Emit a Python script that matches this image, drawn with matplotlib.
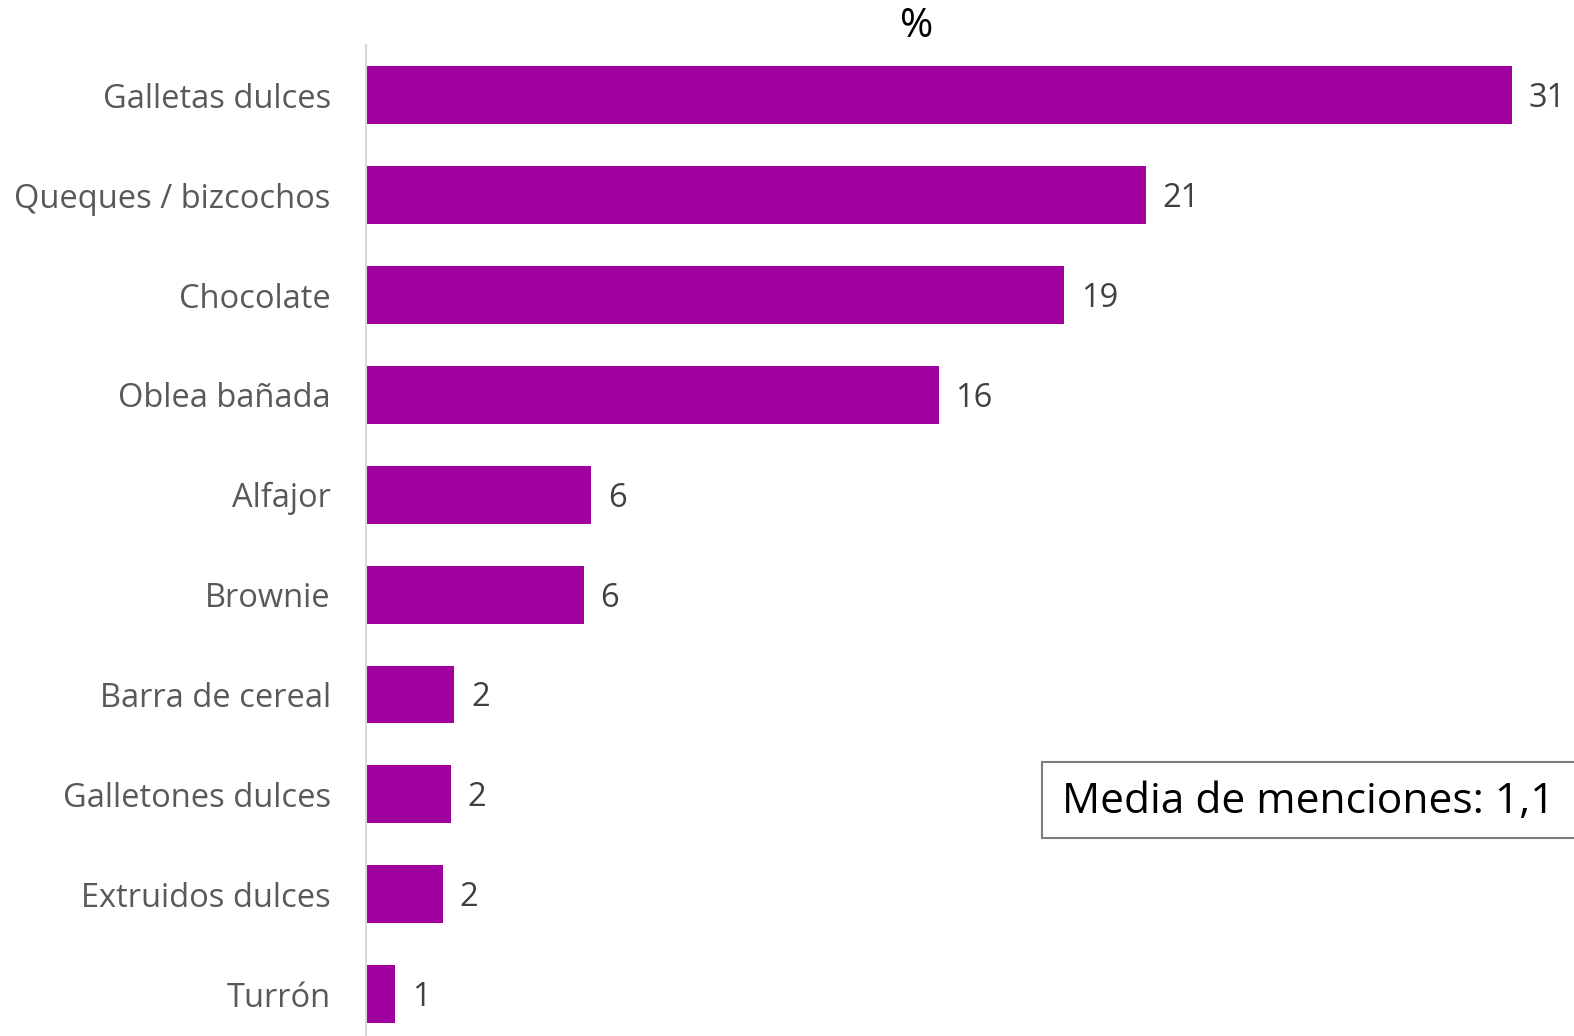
import matplotlib
matplotlib.use("Agg")
import matplotlib.pyplot as plt
from matplotlib.patches import Rectangle

categories = ["Galletas dulces", "Queques / bizcochos", "Chocolate", "Oblea bañada",
              "Alfajor", "Brownie", "Barra de cereal", "Galletones dulces",
              "Extruidos dulces", "Turrón"]
values = [31.0, 21.1, 18.9, 15.5, 6.1, 5.9, 2.4, 2.3, 2.1, 0.8]
labels = ["31", "21", "19", "16", "6", "6", "2", "2", "2", "1"]
title = "%"
note = "Media de menciones: 1,1"

plt.rcParams['font.family'] = ['Open Sans', 'DejaVu Sans']
W, H = 1574, 1036
fig = plt.figure(figsize=(W/100, H/100), dpi=100)
x0 = 365.5
ax = fig.add_axes([x0/W, 1 - 1044/H, (W-x0)/W, (1044-45.5)/H])

bar_color = "#A0009D"
y = list(range(len(categories)))
ax.barh(y, values, height=0.58, color=bar_color)
ax.set_ylim(len(categories)-0.5, -0.5)
ax.set_xlim(0, (W-x0)/36.98)
ax.set_yticks(y)
ax.set_yticklabels(categories, fontsize=23.5, color="#595959")
ax.tick_params(axis='y', length=0, pad=25)
ax.set_xticks([])
for s in ["top", "right", "bottom"]:
    ax.spines[s].set_visible(False)
ax.spines["left"].set_color("#D9D9D9")
ax.spines["left"].set_linewidth(1.5)

for yi, v, lab in zip(y, values, labels):
    ax.annotate(lab, (v, yi), xytext=(12, -2.5), textcoords="offset points",
                va="center", ha="left", fontsize=23.5, color="#404040")

fig.text(917/W, 1 - 27/H, title, ha="center", va="center", fontsize=29, color="black")
fig.patches.append(Rectangle((1042/W, 1 - 838/H), (W + 20 - 1042)/W, 76/H,
                             transform=fig.transFigure, facecolor="white",
                             edgecolor="#7F7F7F", linewidth=1.5, zorder=5))
fig.text(1062/W, 1 - 802/H, note, ha="left", va="center", fontsize=30.6, color="black", zorder=6)

fig.savefig("out.png", dpi=100)
